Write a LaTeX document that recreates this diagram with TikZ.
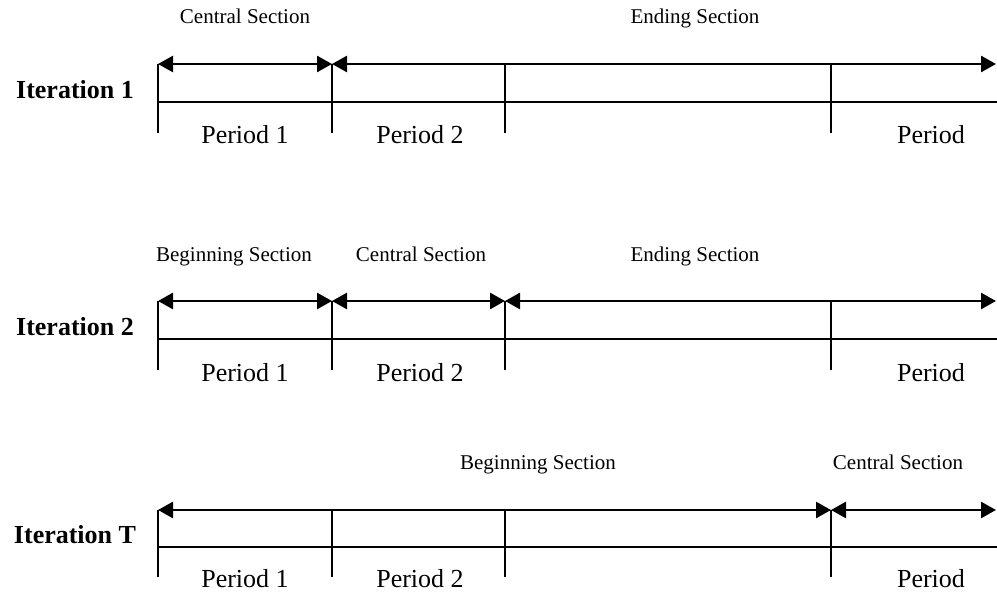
\documentclass[tikz,border=0pt]{standalone}
\usepackage{fontspec}
\setmainfont{Liberation Serif}
\usetikzlibrary{arrows.meta}
\begin{document}
\begin{tikzpicture}[x=1pt,y=-1pt,
  sect/.style={font=\fontsize{21}{24}\selectfont, inner sep=0pt, anchor=base},
  per/.style={font=\fontsize{26}{30}\selectfont, inner sep=0pt, anchor=base},
  iter/.style={font=\fontsize{26}{30}\selectfont\bfseries, inner sep=0pt, anchor=base},
  span/.style={line width=2.7pt, {Triangle[length=15pt,width=16pt]}-{Triangle[length=15pt,width=16pt]}},
  axis/.style={line width=2pt}]
\useasboundingbox (0,0) rectangle (997,593);

% ---------- rows: ticks and base lines ----------
\foreach \r/\A/\L/\B in {r1/64/102/133, r2/301/339/370, rT/510/547/577}{
  \coordinate (\r-a0) at (158,\A);
  \coordinate (\r-a1) at (332,\A);
  \coordinate (\r-a2) at (505,\A);
  \coordinate (\r-a3) at (831,\A);
  \coordinate (\r-e)  at (996,\A);
  \coordinate (\r-b0) at (158,\B);
  \coordinate (\r-b1) at (332,\B);
  \coordinate (\r-b2) at (505,\B);
  \coordinate (\r-b3) at (831,\B);
  \coordinate (\r-l0) at (158,\L);
  \coordinate (\r-le) at (997,\L);
  \draw[axis] (\r-a0) -- (\r-b0);
  \draw[axis] (\r-a1) -- (\r-b1);
  \draw[axis] (\r-a2) -- (\r-b2);
  \draw[axis] (\r-a3) -- (\r-b3);
  \draw[axis] (\r-l0) -- (\r-le);
}

% spans
\draw[span] (r1-a0) -- (r1-a1);
\draw[span] (r1-a1) -- (r1-e);
\draw[span] (r2-a0) -- (r2-a1);
\draw[span] (r2-a1) -- (r2-a2);
\draw[span] (r2-a2) -- (r2-e);
\draw[span] (rT-a0) -- (rT-a3);
\draw[span] (rT-a3) -- (rT-e);

% section labels
\node[sect] (r1-s1) at (245,24) {Central Section};
\node[sect] (r1-s2) at (695,24) {Ending Section};
\node[sect] (r2-s1) at (234,262) {Beginning Section};
\node[sect] (r2-s2) at (421,262) {Central Section};
\node[sect] (r2-s3) at (695,262) {Ending Section};
\node[sect] (rT-s1) at (538,470) {Beginning Section};
\node[sect] (rT-s2) at (898,470) {Central Section};

% iteration labels
\node[iter] (r1-it) at (75,99) {Iteration 1};
\node[iter] (r2-it) at (75,336) {Iteration 2};
\node[iter] (rT-it) at (75,544) {Iteration T};

% period labels
\foreach \r/\Y in {r1/144, r2/382, rT/588}{
  \node[per] (\r-p1) at (245,\Y) {Period 1};
  \node[per] (\r-p2) at (420,\Y) {Period 2};
  \node[per] (\r-pn) at (931,\Y) {Period};
}
\end{tikzpicture}
\end{document}
